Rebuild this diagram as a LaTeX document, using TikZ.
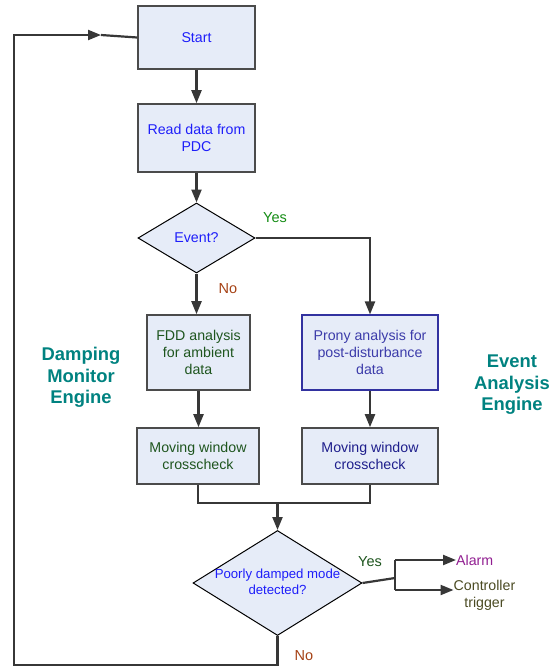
\documentclass[tikz,border=0pt]{standalone}
\usepackage{fontspec}
\setmainfont{Liberation Sans}
\usetikzlibrary{shapes.geometric,arrows.meta}
\definecolor{boxfill}{RGB}{230,236,248}
\definecolor{boxdraw}{RGB}{75,75,75}
\definecolor{linecol}{RGB}{55,55,55}
\definecolor{txtblue}{RGB}{30,30,250}
\definecolor{txtgreen}{RGB}{30,85,30}
\definecolor{txtprony}{RGB}{60,60,170}
\definecolor{txtnavy}{RGB}{30,30,140}
\definecolor{yesgreen}{RGB}{20,140,20}
\definecolor{nobrown}{RGB}{165,65,20}
\definecolor{alarmcol}{RGB}{145,30,145}
\definecolor{ctrlcol}{RGB}{75,75,35}
\definecolor{tealc}{RGB}{0,130,128}
\definecolor{pronyborder}{RGB}{50,50,160}
\tikzset{
  txt/.style={font=\fontsize{14.2}{17}\selectfont, align=center},
  procbox/.style={txt, rectangle, draw=boxdraw, line width=1.6pt, fill=boxfill, inner sep=0pt},
  decbox/.style={diamond, draw=black, line width=1pt, fill=boxfill, inner sep=0pt},
  arr/.style={draw=linecol, line width=2.2pt, -{Triangle[length=13pt,width=10pt]}},
  plain/.style={draw=linecol, line width=2.2pt},
  engine/.style={font=\fontsize{18.4}{21.5}\selectfont\bfseries, text=tealc, align=center},
  lbl/.style={font=\fontsize{14.5}{17}\selectfont}
}
\begin{document}
\begin{tikzpicture}[x=1pt,y=-1pt]
\useasboundingbox (0,0) rectangle (554,667);
% boxes
\node[procbox, minimum width=117pt, minimum height=63pt, text=txtblue] (start) at (196.5,37.5) {Start};
\node[procbox, minimum width=117pt, minimum height=68pt, text=txtblue] (read) at (196.5,138) {Read data from\\PDC};
\node[decbox, minimum width=117pt, minimum height=70pt,
  label={[txt,text=txtblue]center:Event?}] (event) at (196.5,238) {};
\node[procbox, minimum width=103pt, minimum height=75pt, text=txtgreen] (fdd) at (198.5,352.5) {FDD analysis\\for ambient\\data};
\node[procbox, draw=pronyborder, line width=1.1pt, minimum width=136pt, minimum height=75pt, text=txtprony] (prony) at (370,352.5) {Prony analysis for\\post-disturbance\\data};
\node[procbox, minimum width=122pt, minimum height=56pt, text=txtgreen] (mwl) at (198,456) {Moving window\\crosscheck};
\node[procbox, minimum width=136pt, minimum height=56pt, text=txtnavy] (mwr) at (370,456) {Moving window\\crosscheck};
\node[decbox, minimum width=169pt, minimum height=105pt,
  label={[txt,font=\fontsize{13.2}{16}\selectfont,text=txtblue,yshift=1pt]center:Poorly damped mode\\detected?}] (poor) at (277.5,583) {};
\node[txt, text=alarmcol, anchor=west, inner sep=0pt] (alarm) at (456,560) {Alarm};
\node[txt, text=ctrlcol, anchor=north, inner sep=0pt] (ctrl) at (484.5,580) {Controller\\trigger};
% engine labels
\node[engine] (dme) at (81,377.5) {Damping\\Monitor\\Engine};
\node[engine] (eae) at (512,385) {Event\\Analysis\\Engine};
% branch labels
\node[lbl, text=yesgreen] (yes1) at (275,218) {Yes};
\node[lbl, text=nobrown] (no1) at (228,289) {No};
\node[lbl, text=txtgreen] (yes2) at (370,562) {Yes};
\node[lbl, text=nobrown] (no2) at (304,656) {No};
% coordinates
\coordinate (j) at (277.5,503);
\coordinate (y1) at (395,578);
\coordinate (cl1) at (14,665);
\coordinate (cl2) at (14,35);
\coordinate (cl3) at (101,35);
% connectors
\draw[arr] (start) -- (read);
\draw[arr] (read) -- (event);
\draw[arr] (event.south) -- (event.south |- fdd.north);
\draw[arr] (event.east) -| (prony.north);
\draw[arr] (fdd) -- (fdd |- mwl.north);
\draw[arr] (prony) -- (mwr);
\draw[plain] (mwl.south) |- (j);
\draw[plain] (mwr.south) |- (j);
\draw[arr] (j) -- (poor.north);
\draw[plain] (poor.east) -- (y1);
\draw[plain] (395,560) -- (395,590);
\draw[arr] (395,560) -- (alarm.west);
\draw[arr] (395,590) -- ([yshift=-10pt]ctrl.north west);
\draw[arr] (poor.south) -- (poor.south |- cl1) -- (cl1) -- (cl2) -- (cl3);
\draw[plain] (cl3) -- (start.west);
\end{tikzpicture}
\end{document}
